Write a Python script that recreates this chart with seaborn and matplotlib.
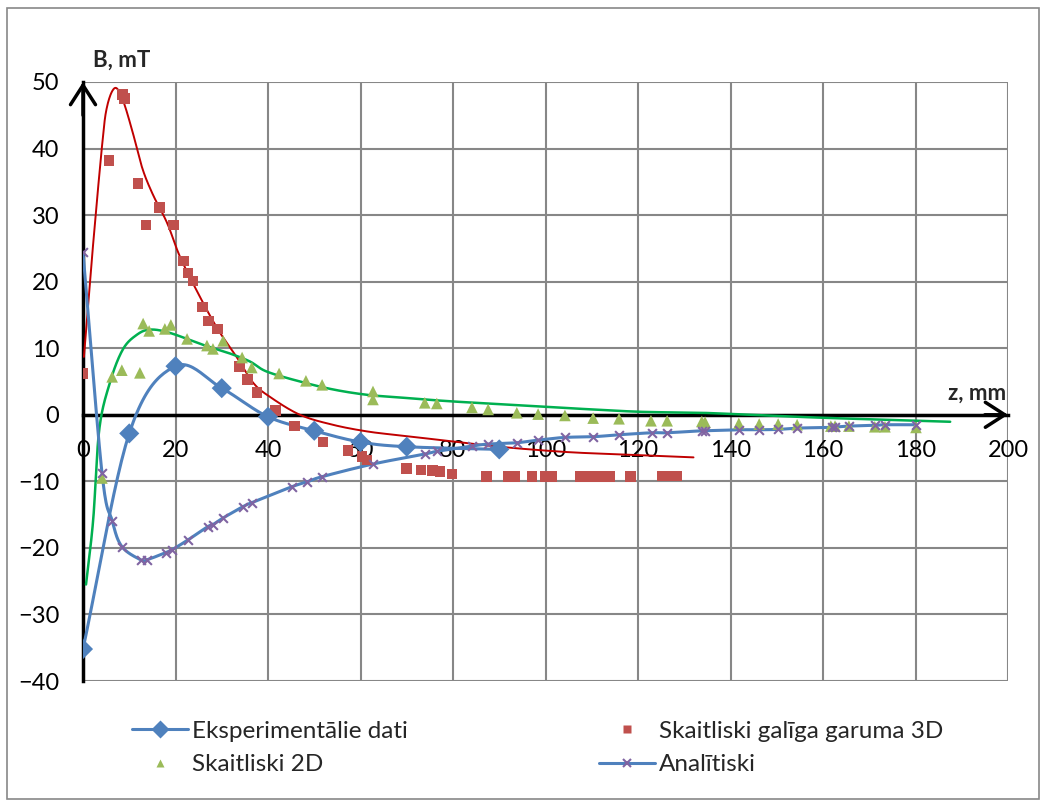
import numpy as np
import matplotlib
matplotlib.use("Agg")
import matplotlib.pyplot as plt
from matplotlib.lines import Line2D
from matplotlib.patches import Rectangle
import seaborn as sns

# Experimental measurements
z_exp = [0, 10, 20, 30, 40, 50, 60, 70, 90]
b_exp = [-35.2, -2.8, 7.3, 4.0, -0.3, -2.4, -4.1, -4.8, -5.2]

# Numerical model, finite-length 3D
z_3d = [0, 5.6, 8.5, 8.9, 11.9, 13.6, 16.6, 19.6, 21.8, 22.7, 23.8, 25.9, 27.2, 29.0,
        33.9, 35.5, 37.6, 41.7, 45.8, 51.9, 57.3, 60.3, 61.4, 70.0, 73.1, 75.5, 77.2,
        79.8, 87.3, 91.9, 93.4, 97.1, 99.9, 101.4, 107.5, 109.0, 110.7, 112.2, 113.9,
        118.3, 125.2, 126.9, 128.4]
b_3d = [6.2, 38.2, 48.1, 47.5, 34.7, 28.5, 31.1, 28.5, 23.1, 21.3, 20.1, 16.2, 14.1, 12.9,
        7.2, 5.3, 3.3, 0.6, -1.7, -4.1, -5.4, -6.3, -6.8, -8.1, -8.3, -8.4, -8.5,
        -8.9, -9.3, -9.3, -9.3, -9.3, -9.3, -9.3, -9.3, -9.3, -9.3, -9.3, -9.3,
        -9.3, -9.2, -9.2, -9.2]

# 3D model curve
z_3d_curve = [0.2, 1.9, 4.1, 5.2, 6.9, 8.6, 10.6, 12.8, 15.1, 18.2, 21.0, 25.3, 29.2, 33.2,
              36.8, 40.4, 46.9, 54.0, 61.4, 68.5, 78.7, 90.0, 104.6, 118.0, 132.0]
b_3d_curve = [8.7, 23.3, 40.3, 46.3, 49.1, 47.3, 42.8, 37.1, 33.1, 28.8, 23.7, 17.7, 12.8, 8.7,
              4.8, 2.7, 0.0, -1.5, -2.5, -3.1, -3.9, -4.8, -5.6, -6.0, -6.4]

# Numerical model, 2D
z_2d = [4.1, 6.3, 8.4, 12.3, 13.0, 14.3, 17.7, 19.0, 22.5, 26.8, 28.1, 30.3, 34.4, 36.5,
        42.4, 48.2, 51.7, 62.7, 62.7, 73.9, 76.5, 84.1, 87.6, 93.8, 98.4, 104.2, 110.3,
        115.9, 122.8, 126.3, 133.8, 134.5, 141.8, 146.2, 150.3, 154.4, 161.7, 162.6,
        165.6, 171.2, 173.4, 180.1]
b_2d = [-9.5, 5.7, 6.7, 6.3, 13.7, 12.6, 12.9, 13.5, 11.4, 10.4, 9.9, 11.1, 8.6, 7.1,
        6.2, 5.1, 4.5, 3.5, 2.3, 1.8, 1.7, 1.1, 0.8, 0.3, 0.1, -0.1, -0.5,
        -0.6, -0.9, -0.9, -1.0, -1.1, -1.3, -1.4, -1.4, -1.5, -1.7, -1.7,
        -1.7, -1.8, -1.8, -1.9]

# 2D model curve
z_2d_curve = [0.65, 2.2, 3.5, 5.8, 8.6, 11.6, 14.5, 18.8, 26.0, 31.8, 36.1, 39.7, 46.9,
              54.1, 61.4, 68.5, 80.0, 100.3, 107.5, 120.4, 133.4, 144.2, 160.0, 187.5]
b_2d_curve = [-25.5, -15.8, -2.3, 4.8, 9.8, 12.0, 12.8, 12.3, 10.5, 9.2, 8.0, 6.5, 5.0,
              3.8, 3.0, 2.6, 2.0, 1.2, 0.9, 0.45, 0.3, 0.0, -0.45, -1.05]

# Analytical solution
z_an = [0, 4.1, 6.3, 8.4, 12.5, 13.8, 17.9, 19.2, 22.7, 27.0, 28.1, 30.3, 34.6, 36.5,
        45.2, 48.4, 51.7, 62.7, 73.9, 76.5, 84.1, 87.6, 93.8, 98.4, 104.2, 110.3, 115.9,
        123.0, 126.3, 133.8, 134.5, 141.8, 146.2, 150.3, 154.4, 161.9, 162.6, 165.6,
        171.2, 173.4, 180.1]
b_an = [24.4, -8.7, -15.9, -19.8, -21.8, -21.8, -20.7, -20.3, -18.8, -16.8, -16.5, -15.5,
        -13.8, -13.2, -10.8, -10.1, -9.3, -7.4, -5.9, -5.5, -4.7, -4.4, -4.2, -3.8, -3.4,
        -3.3, -3.0, -2.7, -2.7, -2.4, -2.4, -2.25, -2.25, -2.2, -2.0, -1.9, -1.85, -1.7,
        -1.6, -1.5, -1.5]

x_ticks = [0, 20, 40, 60, 80, 100, 120, 140, 160, 180, 200]
y_ticks = [-40, -30, -20, -10, 0, 10, 20, 30, 40, 50]
labels = ["Eksperimentālie dati", "Skaitliski galīga garuma 3D",
          "Skaitliski 2D", "Analītiski"]

C_BLUE = "#4F81BD"
C_RED = "#C0504D"
C_RED_LINE = "#C00000"
C_GREEN = "#9BBB59"
C_GREEN_LINE = "#00B050"
C_PURPLE = "#8064A2"

W, H, DPI = 1044, 805, 100
AX_L, AX_R, AX_T, AX_B = 83, 1008, 82, 681
XR, YR = (0, 200), (-40, 50)
SX = (AX_R - AX_L) / (XR[1] - XR[0])
SY = (AX_B - AX_T) / (YR[1] - YR[0])


def smooth(x, y, n=24):
    """Catmull-Rom smoothing done in screen proportions, like a spreadsheet's smoothed line."""
    p = np.column_stack([np.asarray(x, float) * SX, np.asarray(y, float) * SY])
    q = np.vstack([2 * p[0] - p[1], p, 2 * p[-1] - p[-2]])
    t = np.linspace(0, 1, n, endpoint=False)[:, None]
    segs = []
    for i in range(1, len(q) - 2):
        p0, p1, p2, p3 = q[i - 1], q[i], q[i + 1], q[i + 2]
        segs.append(0.5 * (2 * p1 + (-p0 + p2) * t
                           + (2 * p0 - 5 * p1 + 4 * p2 - p3) * t ** 2
                           + (-p0 + 3 * p1 - 3 * p2 + p3) * t ** 3))
    segs.append(p[-1:])
    out = np.vstack(segs)
    return out[:, 0] / SX, out[:, 1] / SY


sns.set_theme(style="white")
plt.rcParams["font.family"] = ["Lato", "DejaVu Sans"]

fig = plt.figure(figsize=(W / DPI, H / DPI), dpi=DPI)
ax = fig.add_axes([AX_L / W, 1 - AX_B / H, (AX_R - AX_L) / W, (AX_B - AX_T) / H])

# smoothed curves
for xs, ys, col, lw, zo in [
    (z_3d_curve, b_3d_curve, C_RED_LINE, 1.4, 3),
    (z_2d_curve, b_2d_curve, C_GREEN_LINE, 1.8, 3),
    (z_an, b_an, C_BLUE, 2.2, 4),
    (z_exp, b_exp, C_BLUE, 2.2, 4),
]:
    sx_, sy_ = smooth(xs, ys)
    sns.lineplot(x=sx_, y=sy_, sort=False, estimator=None, color=col, lw=lw, ax=ax, zorder=zo)

# markers
sns.scatterplot(x=z_3d, y=b_3d, marker="s", s=60, color=C_RED, edgecolor="none",
                ax=ax, zorder=5)
sns.scatterplot(x=z_2d, y=b_2d, marker="^", s=70, color=C_GREEN, edgecolor="none",
                ax=ax, zorder=5)
sns.scatterplot(x=z_an, y=b_an, marker="x", s=40, color=C_PURPLE, linewidth=1.5,
                ax=ax, zorder=6)
sns.scatterplot(x=z_exp, y=b_exp, marker="D", s=105, color=C_BLUE, edgecolor="none",
                ax=ax, zorder=6)

ax.set_xlim(*XR)
ax.set_ylim(*YR)
ax.set_xticks(x_ticks)
ax.set_yticks(y_ticks)
ax.set_xlabel("")
ax.set_ylabel("")

ax.grid(True, color="#878787", lw=1.5)
ax.set_axisbelow(True)
for s in ["top", "right"]:
    ax.spines[s].set_visible(False)
ax.spines["left"].set_position(("data", 0))
ax.spines["bottom"].set_position(("data", 0))
for s in ["left", "bottom"]:
    ax.spines[s].set_color("black")
    ax.spines[s].set_linewidth(2.5)
    ax.spines[s].set_zorder(2.5)

ax.tick_params(axis="both", which="major", direction="out", length=6, width=2.5,
               color="black", labelsize=17, labelcolor="black")
ax.tick_params(axis="y", pad=11)
ax.tick_params(axis="x", pad=12)

# arrow heads at the axis ends
arrow = dict(arrowstyle="->,head_length=0.7,head_width=0.45", lw=2.5, color="black",
             shrinkA=0, shrinkB=0, mutation_scale=20)
ax.annotate("", xy=(XR[1], 0), xytext=(XR[1] - 5, 0), arrowprops=arrow,
            annotation_clip=False, zorder=7)
ax.annotate("", xy=(0, YR[1]), xytext=(0, YR[1] - 5), arrowprops=arrow,
            annotation_clip=False, zorder=7)

fig.text(93 / W, 1 - 60 / H, "B, mT", ha="left", va="center", fontsize=16,
         fontweight="bold")
fig.text(1006 / W, 1 - 393 / H, "z, mm", ha="right", va="center", fontsize=16,
         fontweight="bold")

# legend, two columns
h_exp = Line2D([], [], color=C_BLUE, lw=2.2, marker="D", ms=9, mec="none", mfc=C_BLUE)
h_2d = Line2D([], [], ls="none", marker="^", ms=6, color=C_GREEN, mec="none")
h_3d = Line2D([], [], ls="none", marker="s", ms=6, color=C_RED, mec="none")
h_an = Line2D([], [], color=C_BLUE, lw=2.2, marker="x", ms=6, mew=1.5, mec=C_PURPLE)

leg_kw = dict(frameon=False, fontsize=17.5, handlelength=2.3, handletextpad=0.15,
              labelspacing=0.5, borderpad=0, borderaxespad=0, loc="center left")
leg1 = fig.legend([h_exp, h_2d], [labels[0], labels[2]],
                  bbox_to_anchor=(132 / W, 1 - 748 / H), **leg_kw)
leg2 = fig.legend([h_3d, h_an], [labels[1], labels[3]],
                  bbox_to_anchor=(599 / W, 1 - 748 / H), **leg_kw)

fig.patches.append(Rectangle((7 / W, 1 - 799 / H), (1039 - 7) / W, (799 - 8) / H,
                             transform=fig.transFigure, fill=False,
                             edgecolor="#888888", lw=1.2))

fig.savefig("out.png", dpi=DPI)
